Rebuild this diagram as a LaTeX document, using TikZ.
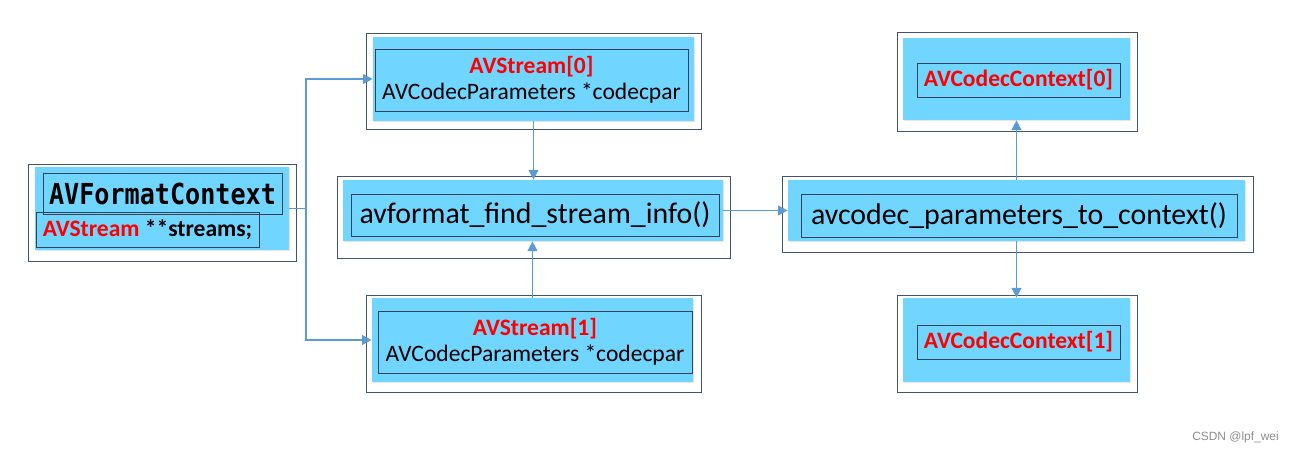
\documentclass[tikz,border=0pt]{standalone}
\usepackage{fontspec}
\setmainfont{Carlito}
\newfontfamily\monofont{DejaVu Sans Mono}
\newfontfamily\markfont{Liberation Sans}
\usetikzlibrary{arrows.meta,shadows}

\definecolor{boxcyan}{RGB}{112,214,255}
\definecolor{linkblue}{RGB}{91,155,213}
\definecolor{framegray}{RGB}{68,84,106}
\definecolor{innergray}{RGB}{55,65,85}

\newcommand{\smallfnt}{\fontsize{13.4}{15}\selectfont}
\newcommand{\bigfnt}{\fontsize{17}{20}\selectfont}

\begin{document}
\begin{tikzpicture}[x=0.02cm, y=-0.02cm,
  frame/.style 2 args={draw=framegray, line width=0.5pt, minimum width=#1, minimum height=#2, inner sep=0pt},
  fillbox/.style 2 args={fill=boxcyan, minimum width=#1, minimum height=#2, inner sep=0pt,
      drop shadow={shadow xshift=0.8pt, shadow yshift=-0.8pt, opacity=0.2, fill=gray}},
  textbox/.style 2 args={draw=innergray, line width=0.5pt, minimum width=#1, minimum height=#2, inner sep=0pt, align=center},
  link/.style={draw=linkblue, line width=0.9pt},
  arr/.style={link, -{Triangle[length=5.5pt, width=5.5pt]}}]

% 画布大小
\useasboundingbox (0,0) rectangle (1295,455);

% AVFormatContext
\node[frame={5.36cm}{1.94cm}] (fmtframe) at (162,212.5) {};
\node[fillbox={5.08cm}{1.66cm}] (fmtfill) at (162,208.5) {};
\node[textbox={4.78cm}{0.82cm}, font=\monofont\bfseries\fontsize{14.3}{16}\selectfont] (fmttitle) at (162.5,193.5) {\scalebox{1}[1.15]{AVFormatContext}};
\node[textbox={4.46cm}{0.70cm}, font=\smallfnt\bfseries] (fmtstreams) at (147.5,229.5) {\textcolor{red}{AVStream} **streams;};

% AVStream[0]
\node[frame={6.7cm}{1.92cm}] (s0frame) at (533.5,81) {};
\node[fillbox={6.42cm}{1.68cm}] (s0fill) at (533.5,79) {};
\node[textbox={6.26cm}{1.24cm}, font=\smallfnt] (s0text) at (531.5,80) {\textcolor{red}{\bfseries AVStream[0]}\\AVCodecParameters *codecpar};

% avformat_find_stream_info()
\node[frame={7.86cm}{1.64cm}] (fframe) at (533.5,217) {};
\node[fillbox={7.6cm}{1.22cm}] (ffill) at (533,210.5) {};
\node[textbox={7.36cm}{0.84cm}, font=\bigfnt] (ftext) at (535,215) {avformat\_find\_stream\_info()};

% AVStream[1]
\node[frame={6.7cm}{1.94cm}] (s1frame) at (533.5,343.5) {};
\node[fillbox={6.42cm}{1.68cm}] (s1fill) at (532.5,340) {};
\node[textbox={6.28cm}{1.24cm}, font=\smallfnt] (s1text) at (535,342) {\textcolor{red}{\bfseries AVStream[1]}\\AVCodecParameters *codecpar};

% avcodec_parameters_to_context()
\node[frame={9.42cm}{1.52cm}] (cframe) at (1017.5,214) {};
\node[fillbox={9.14cm}{1.22cm}] (cfill) at (1016.5,210.5) {};
\node[textbox={8.72cm}{0.86cm}, font=\bigfnt] (ctext) at (1019,215.5) {avcodec\_parameters\_to\_context()};

% AVCodecContext[0]
\node[frame={4.8cm}{1.98cm}] (c0frame) at (1017,81.5) {};
\node[fillbox={4.54cm}{1.64cm}] (c0fill) at (1016.5,79) {};
\node[textbox={4.06cm}{0.68cm}, font=\smallfnt\bfseries, text=red] (c0text) at (1018.5,80) {AVCodecContext[0]};

% AVCodecContext[1]
\node[frame={4.8cm}{1.94cm}] (c1frame) at (1017,343.5) {};
\node[fillbox={4.54cm}{1.68cm}] (c1fill) at (1016.5,340) {};
\node[textbox={4.06cm}{0.68cm}, font=\smallfnt\bfseries, text=red] (c1text) at (1018.5,342) {AVCodecContext[1]};

% 连线
\coordinate (split) at (fmtfill.east -| 306,0);
\draw[link] (fmtfill.east) -- (split);
\draw[arr] (split) |- (s0fill.west);
\draw[arr] (split) |- (s1fill.west);
\draw[arr] (s0fill.south) -- (s0fill.south |- ffill.north);
\draw[arr] (s1fill.north) -- (s1fill.north |- ffill.south);
\draw[arr] (ffill.east) -- (cfill.west);
\draw[arr] (cfill.north) -- (c0fill.south);
\draw[arr] (cfill.south) -- (c1fill.north);

% 水印
\node[font=\markfont\fontsize{6.8}{8}\selectfont, text=black!45] (mark) at (1235.5,437) {CSDN @lpf\_wei};

\end{tikzpicture}
\end{document}
